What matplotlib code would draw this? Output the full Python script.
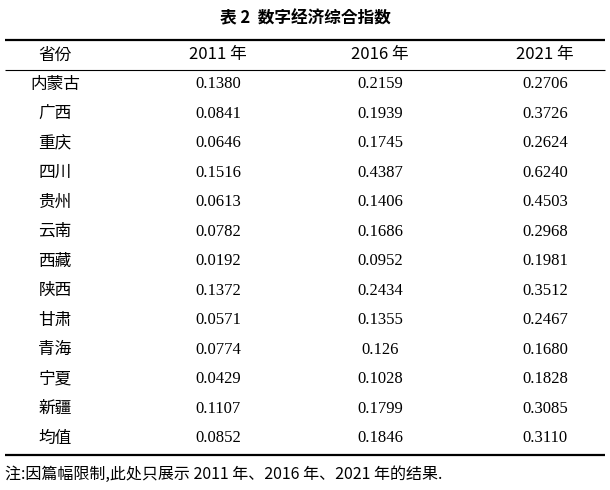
import matplotlib.pyplot as plt
from matplotlib import font_manager

provinces = ["内蒙古", "广西", "重庆", "四川", "贵州", "云南", "西藏", "陕西",
             "甘肃", "青海", "宁夏", "新疆", "均值"]
v2011 = ["0.1380", "0.0841", "0.0646", "0.1516", "0.0613", "0.0782", "0.0192",
         "0.1372", "0.0571", "0.0774", "0.0429", "0.1107", "0.0852"]
v2016 = ["0.2159", "0.1939", "0.1745", "0.4387", "0.1406", "0.1686", "0.0952",
         "0.2434", "0.1355", "0.126", "0.1028", "0.1799", "0.1846"]
v2021 = ["0.2706", "0.3726", "0.2624", "0.6240", "0.4503", "0.2968", "0.1981",
         "0.3512", "0.2467", "0.1680", "0.1828", "0.3085", "0.3110"]
headers = ["省份", "2011 年", "2016 年", "2021 年"]

# find an installed CJK font by name
names = sorted({f.name for f in font_manager.fontManager.ttflist})
cjk = next((n for n in names if "CJK SC" in n),
           next((n for n in names if "CJK" in n), "DejaVu Sans"))
serif = "Liberation Serif"

fig = plt.figure(figsize=(6.1, 4.9), dpi=100)
ax = fig.add_axes([0, 0, 1, 1])
ax.set_xlim(0, 610)
ax.set_ylim(490, 0)
ax.axis("off")

ax.text(305, 18, "表 2  数字经济综合指数", ha="center", va="center",
        fontsize=12, fontweight="bold", family=cjk)

ax.hlines(40, 5, 605, color="black", lw=1.6)
ax.hlines(70, 5, 605, color="black", lw=0.8)
ax.hlines(455, 5, 605, color="black", lw=1.6)

cols = [55, 218, 380, 545]
for x, h in zip(cols, headers):
    ax.text(x, 55, h, ha="center", va="center", fontsize=12, family=cjk)

step = (438 - 84) / 12
for i, p in enumerate(provinces):
    y = 84 + i * step
    ax.text(cols[0], y, p, ha="center", va="center", fontsize=12, family=cjk)
    for x, v in zip(cols[1:], (v2011[i], v2016[i], v2021[i])):
        ax.text(x, y, v, ha="center", va="center", fontsize=12, family=serif)

ax.text(5, 474, "注:因篇幅限制,此处只展示 2011 年、2016 年、2021 年的结果.",
        ha="left", va="center", fontsize=11.5, family=cjk)

fig.savefig("out.png", dpi=100)
